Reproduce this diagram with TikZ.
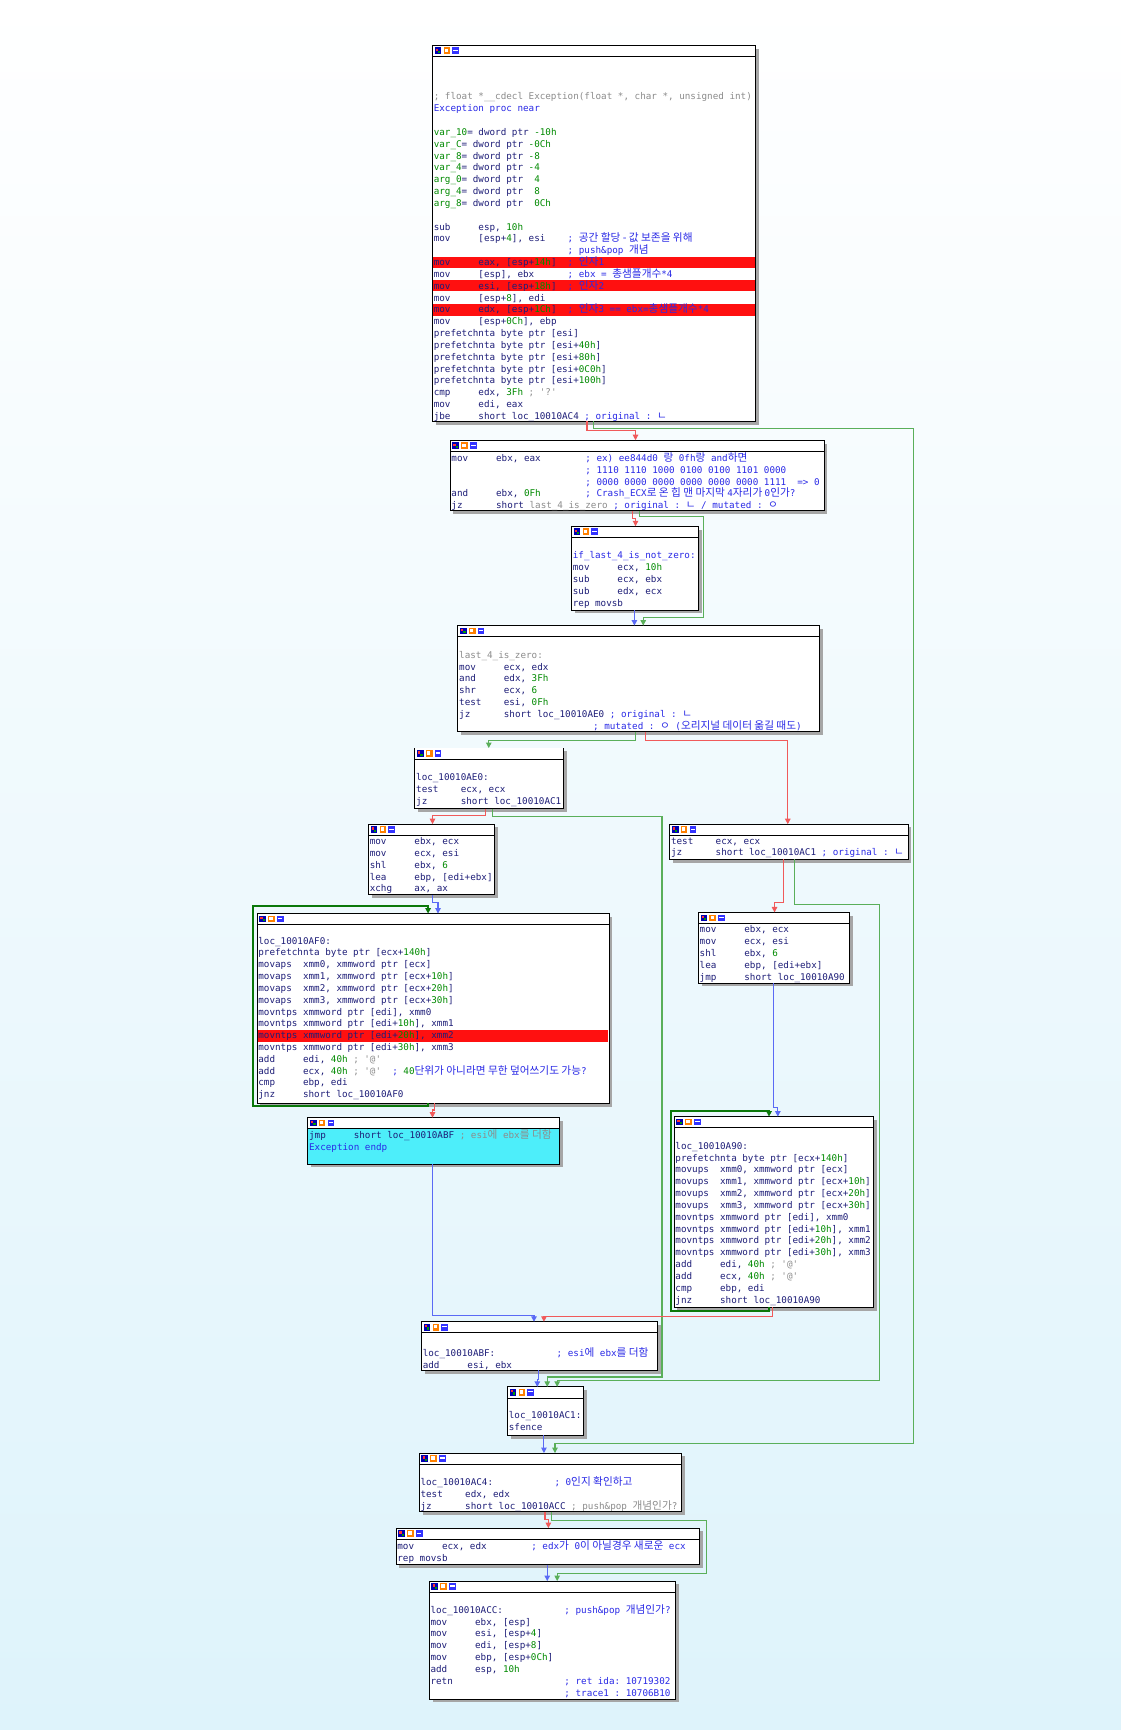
\documentclass[tikz,border=0pt]{standalone}
\usepackage{fontspec}
\setmonofont{DejaVu Sans Mono}
\newfontfamily\krf{Noto Sans CJK KR}[Scale=1.15]
\usetikzlibrary{arrows.meta}
\definecolor{txt}{HTML}{1E1E78}
\definecolor{num}{HTML}{008A00}
\definecolor{cmt}{HTML}{2A2AE6}
\definecolor{gry}{HTML}{8C8C8C}
\definecolor{hl}{HTML}{FF1010}
\definecolor{eR}{HTML}{F05A5A}
\definecolor{eG}{HTML}{5AAF5A}
\definecolor{eB}{HTML}{5A6AF5}
\definecolor{eL}{HTML}{0A780A}
\definecolor{cy}{HTML}{4DEEFA}
\newcommand\nm[1]{\textcolor{num}{#1}}
\newcommand\cmt[1]{\textcolor{cmt}{#1}}
\newcommand\gry[1]{\textcolor{gry}{#1}}
\newcommand\kr[1]{{\krf #1}}
\newcommand\sk[1]{\hspace*{#1\fontcharwd\font`x}}
\tikzset{
 box/.style={draw=black,line width=0.8pt,inner sep=0pt,outer sep=0pt},
 code/.style={font=\ttfamily\fontsize{8.4}{10.72}\selectfont,align=left,inner sep=0pt,text=txt,anchor=north west},
 tip/.style={-{Triangle[length=5pt,width=5pt]}},
 er/.style={draw=eR,line width=1pt,tip},
 eg/.style={draw=eG,line width=1pt,tip},
 eb/.style={draw=eB,line width=1pt,tip},
 el/.style={draw=eL,line width=1.8pt,tip},
}
\newcommand\bx[6]{%
 \fill[black!35] (#2+3,#3+3) rectangle (#4+3,#5+3);
 \node[box,fill=#6,minimum width={#4-#2},minimum height={#5-#3},anchor=north west] (#1) at (#2,#3) {};
 \fill[white] (#2+0.4,#3+0.4) rectangle (#4-0.4,#3+10);
 \draw[line width=0.6pt] (#2,#3+10) -- (#4,#3+10);
 \fill[blue!70!black] (#2+2,#3+2) rectangle +(6,6); \fill[red!80] (#2+3,#3+3) rectangle +(2,2); \fill[green!60!black] (#2+5,#3+5) rectangle +(2,2);
 \fill[orange] (#2+10,#3+2) rectangle +(6,6); \fill[white] (#2+11,#3+3) rectangle +(3,3);
 \fill[blue!80] (#2+18,#3+2) rectangle +(6,6); \fill[white] (#2+19,#3+4) rectangle +(4,1);
}
\newcommand\hlr[3]{\fill[hl] (#1+0.5,#3-5.2) rectangle (#2-0.5,#3+5.2);}
\begin{document}
\begin{tikzpicture}[x=1pt,y=-1pt]
\useasboundingbox (0,0) rectangle (1016,1568);
\shade[top color=white,bottom color={rgb,255:red,222;green,243;blue,251}] (0,0) rectangle (1016,1568);

% ---------- boxes
\bx{b1}{392}{41}{685}{382}{white}
\hlr{392}{685}{238}\hlr{392}{685}{259}\hlr{392}{685}{281}
\node[code] (t1) at (393,84) {\gry{; float *\_\_cdecl Exception(float *, char *, unsigned int)}\\
\cmt{Exception proc near}\\ ~\\
\nm{var\_10}= dword ptr \nm{-10h}\\
\nm{var\_C}= dword ptr \nm{-0Ch}\\
\nm{var\_8}= dword ptr \nm{-8}\\
\nm{var\_4}= dword ptr \nm{-4}\\
\nm{arg\_0}= dword ptr \sk1\nm{4}\\
\nm{arg\_4}= dword ptr \sk1\nm{8}\\
\nm{arg\_8}= dword ptr \sk1\nm{0Ch}\\ ~\\
sub\sk5esp, \nm{10h}\\
mov\sk5[esp+\nm{4}], esi\sk4\cmt{; \kr{공간 할당 - 값 보존을 위해}}\\
\sk{24}\cmt{; push\&pop \kr{개념}}\\
mov\sk5eax, [esp+\nm{14h}]\sk2\cmt{; \kr{인자}1}\\
mov\sk5[esp], ebx\sk6\cmt{; ebx = \kr{총샘플개수}*4}\\
mov\sk5esi, [esp+\nm{18h}]\sk2\cmt{; \kr{인자}2}\\
mov\sk5[esp+\nm{8}], edi\\
mov\sk5edx, [esp+\nm{1Ch}]\sk2\cmt{; \kr{인자}3 == ebx=\kr{총샘플개수}*4}\\
mov\sk5[esp+\nm{0Ch}], ebp\\
prefetchnta byte ptr [esi]\\
prefetchnta byte ptr [esi+\nm{40h}]\\
prefetchnta byte ptr [esi+\nm{80h}]\\
prefetchnta byte ptr [esi+\nm{0C0h}]\\
prefetchnta byte ptr [esi+\nm{100h}]\\
cmp\sk5edx, \nm{3Fh} \gry{; '?'}\\
mov\sk5edi, eax\\
jbe\sk5short loc\_10010AC4 \cmt{; original : \kr{ㄴ}}};

\bx{b2}{408}{399}{747}{463}{white}
\node[code] (t2) at (409,410) {mov\sk5ebx, eax\sk8\cmt{; ex) ee844d0 \kr{랑} 0fh\kr{랑} and\kr{하면}}\\
\sk{24}\cmt{; 1110 1110 1000 0100 0100 1101 0000}\\
\sk{24}\cmt{; 0000 0000 0000 0000 0000 0000 1111\sk2=> 0}\\
and\sk5ebx, \nm{0Fh}\sk8\cmt{; Crash\_ECX\kr{로 온 힙 맨 마지막 }4\kr{자리가 }0\kr{인가}?}\\
jz\sk6short \gry{last\_4\_is\_zero} \cmt{; original : \kr{ㄴ} / mutated : \kr{ㅇ}}};

\bx{b3}{518}{477}{633}{553}{white}
\node[code] (t3) at (519,500) {\cmt{if\_last\_4\_is\_not\_zero:}\\
mov\sk5ecx, \nm{10h}\\ sub\sk5ecx, ebx\\ sub\sk5edx, ecx\\ rep movsb};

\bx{b4}{415}{567}{743}{663}{white}
\node[code] (t4) at (416,590) {\gry{last\_4\_is\_zero:}\\
mov\sk5ecx, edx\\ and\sk5edx, \nm{3Fh}\\ shr\sk5ecx, \nm{6}\\ test\sk4esi, \nm{0Fh}\\
jz\sk6short loc\_10010AE0 \cmt{; original : \kr{ㄴ}}\\
\sk{24}\cmt{; mutated : \kr{ㅇ} (\kr{오리지널 데이터 옮길 때도})}};

\bx{b5}{376}{678}{511}{733}{white}
\node[code] (t5) at (377,701) {loc\_10010AE0:\\ test\sk4ecx, ecx\\ jz\sk6short loc\_10010AC1};

\bx{b6}{334}{747}{448}{811}{white}
\node[code] (t6) at (335,759) {mov\sk5ebx, ecx\\ mov\sk5ecx, esi\\ shl\sk5ebx, \nm{6}\\ lea\sk5ebp, [edi+ebx]\\ xchg\sk4ax, ax};

\bx{b7}{607}{747}{823}{779}{white}
\node[code] (t7) at (608,759) {test\sk4ecx, ecx\\ jz\sk6short loc\_10010AC1 \cmt{; original : \kr{ㄴ}}};

\bx{b8}{233}{828}{552}{1000}{white}
\hlr{233}{552}{939}
\node[code] (t8) at (234,849) {loc\_10010AF0:\\
prefetchnta byte ptr [ecx+\nm{140h}]\\
movaps\sk2xmm0, xmmword ptr [ecx]\\
movaps\sk2xmm1, xmmword ptr [ecx+\nm{10h}]\\
movaps\sk2xmm2, xmmword ptr [ecx+\nm{20h}]\\
movaps\sk2xmm3, xmmword ptr [ecx+\nm{30h}]\\
movntps xmmword ptr [edi], xmm0\\
movntps xmmword ptr [edi+\nm{10h}], xmm1\\
movntps xmmword ptr [edi+\nm{20h}], xmm2\\
movntps xmmword ptr [edi+\nm{30h}], xmm3\\
add\sk5edi, \nm{40h} \gry{; '@'}\\
add\sk5ecx, \nm{40h} \gry{; '@'}\sk2\cmt{; \nm{40}\kr{단위가 아니라면 무한 덮어쓰기도 가능}?}\\
cmp\sk5ebp, edi\\
jnz\sk5short loc\_10010AF0};

\bx{b9}{279}{1013}{507}{1055}{cy}
\node[code] (t9) at (280,1024) {jmp\sk5short loc\_10010ABF \gry{; esi\kr{에} ebx\kr{를 더함}}\\ \cmt{Exception endp}};

\bx{b10}{633}{827}{770}{891}{white}
\node[code] (t10) at (634,839) {mov\sk5ebx, ecx\\ mov\sk5ecx, esi\\ shl\sk5ebx, \nm{6}\\ lea\sk5ebp, [edi+ebx]\\ jmp\sk5short loc\_10010A90};

\bx{b11}{611}{1012}{792}{1185}{white}
\node[code] (t11) at (612,1035) {loc\_10010A90:\\
prefetchnta byte ptr [ecx+\nm{140h}]\\
movups\sk2xmm0, xmmword ptr [ecx]\\
movups\sk2xmm1, xmmword ptr [ecx+\nm{10h}]\\
movups\sk2xmm2, xmmword ptr [ecx+\nm{20h}]\\
movups\sk2xmm3, xmmword ptr [ecx+\nm{30h}]\\
movntps xmmword ptr [edi], xmm0\\
movntps xmmword ptr [edi+\nm{10h}], xmm1\\
movntps xmmword ptr [edi+\nm{20h}], xmm2\\
movntps xmmword ptr [edi+\nm{30h}], xmm3\\
add\sk5edi, \nm{40h} \gry{; '@'}\\
add\sk5ecx, \nm{40h} \gry{; '@'}\\
cmp\sk5ebp, edi\\
jnz\sk5short loc\_10010A90};

\bx{b12}{382}{1198}{596}{1242}{white}
\node[code] (t12) at (383,1221) {loc\_10010ABF:\sk{11}\cmt{; esi\kr{에} ebx\kr{를 더함}}\\ add\sk5esi, ebx};

\bx{b13}{460}{1257}{529}{1301}{white}
\node[code] (t13) at (461,1279) {loc\_10010AC1:\\ sfence};

\bx{b14}{380}{1317}{618}{1370}{white}
\node[code] (t14) at (381,1338) {loc\_10010AC4:\sk{11}\cmt{; 0\kr{인지 확인하고}}\\ test\sk4edx, edx\\
jz\sk6short loc\_10010ACC \gry{; push\&pop \kr{개념인가}?}};

\bx{b15}{359}{1385}{634}{1418}{white}
\node[code] (t15) at (360,1396) {mov\sk5ecx, edx\sk8\cmt{; edx\kr{가} 0\kr{이 아닐경우 새로운} ecx}\\ rep movsb};

\bx{b16}{389}{1433}{612}{1540}{white}
\node[code] (t16) at (390,1454) {loc\_10010ACC:\sk{11}\cmt{; push\&pop \kr{개념인가}?}\\
mov\sk5ebx, [esp]\\ mov\sk5esi, [esp+\nm{4}]\\ mov\sk5edi, [esp+\nm{8}]\\ mov\sk5ebp, [esp+\nm{0Ch}]\\
add\sk5esp, \nm{10h}\\ retn\sk{20}\cmt{; ret ida: 10719302}\\ \sk{24}\cmt{; trace1 : 10706B10}};

% ---------- edges
\draw[er] (532,0 |- b1.south) -- (532,390) -- (576,390) -- (576,0 |- b2.north);
\draw[eg] (538,0 |- b1.south) -- (538,388) -- (828,388) -- (828,1308) -- (503,1308) -- (503,0 |- b14.north);
\draw[er] (573,0 |- b2.south) -- (573,470) -- (576,470) -- (576,0 |- b3.north);
\draw[eg] (580,0 |- b2.south) -- (580,468) -- (638,468) -- (638,560) -- (583,560) -- (583,0 |- b4.north);
\draw[eb] (575,0 |- b3.south) -- (575,0 |- b4.north);
\draw[eg] (576,0 |- b4.south) -- (576,671) -- (443,671) -- (443,0 |- b5.north);
\draw[er] (585,0 |- b4.south) -- (585,671) -- (714,671) -- (714,0 |- b7.north);
\draw[er] (440,0 |- b5.south) -- (440,739) -- (392,739) -- (392,0 |- b6.north);
\draw[eg] (446,0 |- b5.south) -- (446,740) -- (600,740) -- (600,1248) -- (496,1248) -- (496,0 |- b13.north);
\draw[eg] (720,0 |- b7.south) -- (720,820) -- (797,820) -- (797,1251) -- (505,1251) -- (505,0 |- b13.north);
\draw[er] (710,0 |- b7.south) -- (710,818) -- (702,818) -- (702,0 |- b10.north);
\draw[eb] (392,0 |- b6.south) -- (392,818) -- (397,818) -- (397,0 |- b8.north);
\draw[el] (388,0 |- b8.south) -- (388,1002) -- (229,1002) -- (229,821) -- (388,821) -- (388,0 |- b8.north);
\draw[er] (394,0 |- b8.south) -- (394,1006) -- (392,1006) -- (392,0 |- b9.north);
\draw[eb] (392,0 |- b9.south) -- (392,1192) -- (484,1192) -- (484,0 |- b12.north);
\draw[eb] (701,0 |- b10.south) -- (701,1004) -- (705,1004) -- (705,0 |- b11.north);
\draw[el] (697,0 |- b11.south) -- (697,1188) -- (608,1188) -- (608,1007) -- (697,1007) -- (697,0 |- b11.north);
\draw[er] (700,0 |- b11.south) -- (700,1193) -- (493,1193) -- (493,0 |- b12.north);
\draw[eb] (488,0 |- b12.south) -- (488,1250) -- (487,1250) -- (487,0 |- b13.north);
\draw[eb] (493,0 |- b13.south) -- (493,0 |- b14.north);
\draw[er] (494,0 |- b14.south) -- (494,1377) -- (497,1377) -- (497,0 |- b15.north);
\draw[eg] (500,0 |- b14.south) -- (500,1378) -- (640,1378) -- (640,1426) -- (505,1426) -- (505,0 |- b16.north);
\draw[eb] (496,0 |- b15.south) -- (496,0 |- b16.north);
\end{tikzpicture}
\end{document}
